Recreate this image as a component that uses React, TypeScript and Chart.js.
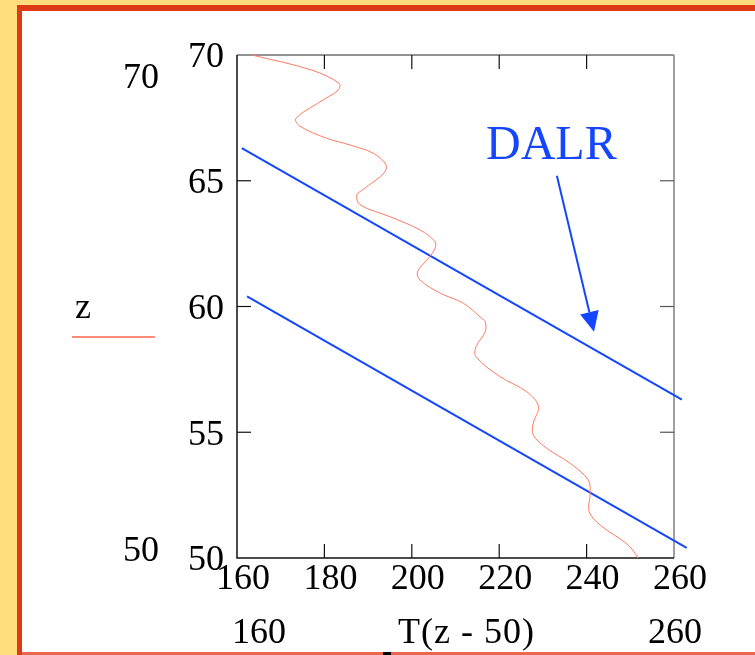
import React, { useEffect, useRef } from 'react';
import { Chart, registerables } from 'chart.js';

Chart.register(...registerables);

// Temperature profile (red curve)
const profileT = [163.4, 177.1, 183.4, 183.2, 179.0, 173.5, 174.3, 180.5, 185.9, 191.2, 194.1, 193.6, 188.9, 187.4, 188.2, 195.0, 201.9, 205.3, 205.3, 203.8, 201.3, 201.9, 206.5, 211.8, 216.0, 216.8, 216.8, 214.7, 214.7, 220.2, 226.3, 229.0, 227.8, 227.8, 230.9, 236.2, 240.4, 240.8, 240.6, 243.1, 249.5, 251.8];
const profileZ = [70, 69.4, 68.87, 68.61, 68.14, 67.48, 67.18, 66.69, 66.42, 66.09, 65.63, 65.3, 64.66, 64.43, 64.04, 63.57, 63.04, 62.58, 62.31, 61.92, 61.38, 61.05, 60.53, 60.13, 59.53, 59.4, 59.0, 58.4, 58.0, 57.21, 56.61, 56.02, 55.36, 54.89, 54.36, 53.77, 53.1, 52.57, 51.84, 51.31, 50.52, 50];

// Dry adiabatic lapse rate lines (blue)
const dalrUpperT = [161.1, 261.8];
const dalrUpperZ = [66.3, 56.3];
const dalrLowerT = [162.3, 262.9];
const dalrLowerZ = [60.4, 50.4];

// Annotation arrow (from label to upper line)
const arrowT = [233.2, 241.7];
const arrowZ = [65.2, 59.0];

// Axes
const xTicks = [160, 180, 200, 220, 240, 260];
const zTicks = [50, 55, 60, 65, 70];

const W = 755;
const H = 655;
const SERIF = "'Liberation Serif', 'Times New Roman', serif";
const BLUE = '#1446FF';
const SALMON = '#FF7A60';

const toPts = (xs: number[], ys: number[]) => xs.map((x, i) => ({ x, y: ys[i] }));

const decor = {
  id: 'decor',
  beforeDraw(chart: any) {
    const ctx = chart.ctx as CanvasRenderingContext2D;
    ctx.save();
    ctx.fillStyle = '#FFDC7C';
    ctx.fillRect(0, 0, W, H);
    ctx.fillStyle = '#DE3A17';
    ctx.fillRect(17, 5, W - 17, H - 5);
    ctx.fillStyle = '#E8674E';
    ctx.fillRect(22, 652, W - 22, 3);
    ctx.fillStyle = '#FFFFFF';
    ctx.fillRect(22, 11, W - 22, 641);
    ctx.restore();
  },
  beforeDatasetsDraw(chart: any) {
    const ctx = chart.ctx as CanvasRenderingContext2D;
    const { left, right, top, bottom } = chart.chartArea;
    const xs = chart.scales.x;
    const ys = chart.scales.y;
    ctx.save();
    ctx.lineWidth = 1.5;
    ctx.strokeStyle = '#6E6E6E';
    ctx.beginPath(); ctx.moveTo(left, top); ctx.lineTo(right, top); ctx.stroke();
    ctx.strokeStyle = '#808080';
    ctx.beginPath(); ctx.moveTo(right, top); ctx.lineTo(right, bottom); ctx.stroke();
    ctx.strokeStyle = '#111111';
    ctx.beginPath(); ctx.moveTo(left, top); ctx.lineTo(left, bottom); ctx.lineTo(right, bottom); ctx.stroke();
    ctx.lineWidth = 1.2;
    const tl = 14;
    xTicks.slice(1, -1).forEach((v) => {
      const px = xs.getPixelForValue(v);
      ctx.strokeStyle = '#111111';
      ctx.beginPath(); ctx.moveTo(px, bottom); ctx.lineTo(px, bottom - tl); ctx.stroke();
      ctx.beginPath(); ctx.moveTo(px, top); ctx.lineTo(px, top + tl); ctx.stroke();
    });
    zTicks.slice(1, -1).forEach((v) => {
      const py = ys.getPixelForValue(v);
      ctx.strokeStyle = '#111111';
      ctx.beginPath(); ctx.moveTo(left, py); ctx.lineTo(left + tl, py); ctx.stroke();
      ctx.strokeStyle = '#555555';
      ctx.beginPath(); ctx.moveTo(right, py); ctx.lineTo(right - tl, py); ctx.stroke();
    });
    ctx.restore();
  },
  afterDatasetsDraw(chart: any) {
    const ctx = chart.ctx as CanvasRenderingContext2D;
    const xs = chart.scales.x;
    const ys = chart.scales.y;
    ctx.save();
    const x0 = xs.getPixelForValue(arrowT[0]);
    const y0 = ys.getPixelForValue(arrowZ[0]);
    const x1 = xs.getPixelForValue(arrowT[1]);
    const y1 = ys.getPixelForValue(arrowZ[1]);
    const ang = Math.atan2(y1 - y0, x1 - x0);
    const headLen = 20;
    const headHalf = 9.5;
    const bx = x1 - headLen * Math.cos(ang);
    const by = y1 - headLen * Math.sin(ang);
    ctx.strokeStyle = BLUE;
    ctx.fillStyle = BLUE;
    ctx.lineWidth = 2;
    ctx.beginPath(); ctx.moveTo(x0, y0); ctx.lineTo(bx, by); ctx.stroke();
    ctx.beginPath();
    ctx.moveTo(x1, y1);
    ctx.lineTo(bx + headHalf * Math.sin(ang), by - headHalf * Math.cos(ang));
    ctx.lineTo(bx - headHalf * Math.sin(ang), by + headHalf * Math.cos(ang));
    ctx.closePath();
    ctx.fill();

    ctx.font = `48px ${SERIF}`;
    ctx.textAlign = 'left';
    ctx.textBaseline = 'alphabetic';
    ctx.fillStyle = BLUE;
    ctx.fillText('DALR', 486, 159);

    ctx.fillStyle = '#000000';
    ctx.font = `36px ${SERIF}`;
    ctx.textAlign = 'center';
    ctx.fillText('70', 141, 88);
    ctx.fillText('50', 141, 561);
    ctx.fillText('z', 83, 318);
    ctx.fillText('160', 259, 643);
    ctx.fillText('260', 675, 643);
    ctx.textAlign = 'left';
    (ctx as any).letterSpacing = '1px';
    ctx.fillText('T(z - 50)', 398, 643);
    (ctx as any).letterSpacing = '0px';

    ctx.strokeStyle = '#FF8C78';
    ctx.lineWidth = 2;
    ctx.beginPath(); ctx.moveTo(72, 337); ctx.lineTo(155, 337); ctx.stroke();

    ctx.fillStyle = '#000000';
    ctx.fillRect(383, 652, 8, 3);
    ctx.restore();
  },
};

export default function App() {
  const ref = useRef<HTMLCanvasElement>(null);
  useEffect(() => {
    if (!ref.current) return;
    const chart = new Chart(ref.current, {
      type: 'scatter',
      data: {
        datasets: [
          {
            data: toPts(profileT, profileZ),
            showLine: true,
            borderColor: SALMON,
            borderWidth: 1,
            pointRadius: 0,
            tension: 0.35,
          },
          {
            data: toPts(dalrUpperT, dalrUpperZ),
            showLine: true,
            borderColor: BLUE,
            borderWidth: 2,
            pointRadius: 0,
            clip: false,
          },
          {
            data: toPts(dalrLowerT, dalrLowerZ),
            showLine: true,
            borderColor: BLUE,
            borderWidth: 2,
            pointRadius: 0,
            clip: false,
          },
        ] as any,
      },
      options: {
        responsive: false,
        animation: false,
        devicePixelRatio: 1,
        layout: { padding: { left: 0, right: 81, top: 55, bottom: 0 } },
        plugins: { legend: { display: false }, tooltip: { enabled: false } },
        scales: {
          x: {
            type: 'linear',
            min: 160,
            max: 260,
            afterBuildTicks: (s: any) => { s.ticks = xTicks.map((v) => ({ value: v })); },
            afterFit: (s: any) => { s.height = 97; },
            grid: { display: false, drawTicks: false },
            border: { display: false },
            ticks: {
              color: '#000',
              font: { family: SERIF, size: 36 },
              padding: 0,
              labelOffset: 6,
              maxRotation: 0,
              autoSkip: false,
            },
          },
          y: {
            type: 'linear',
            min: 50,
            max: 70,
            afterBuildTicks: (s: any) => { s.ticks = zTicks.map((v) => ({ value: v })); },
            afterFit: (s: any) => { s.width = 237; },
            grid: { display: false, drawTicks: false },
            border: { display: false },
            ticks: {
              color: '#000',
              font: { family: SERIF, size: 36 },
              padding: 13,
              labelOffset: 3,
              autoSkip: false,
            },
          },
        },
      } as any,
      plugins: [decor],
    });
    return () => chart.destroy();
  }, []);
  return (
    <div style={{ position: 'absolute', left: 0, top: 0, width: W, height: H }}>
      <canvas ref={ref} width={W} height={H} style={{ display: 'block', width: W, height: H }} />
    </div>
  );
}
